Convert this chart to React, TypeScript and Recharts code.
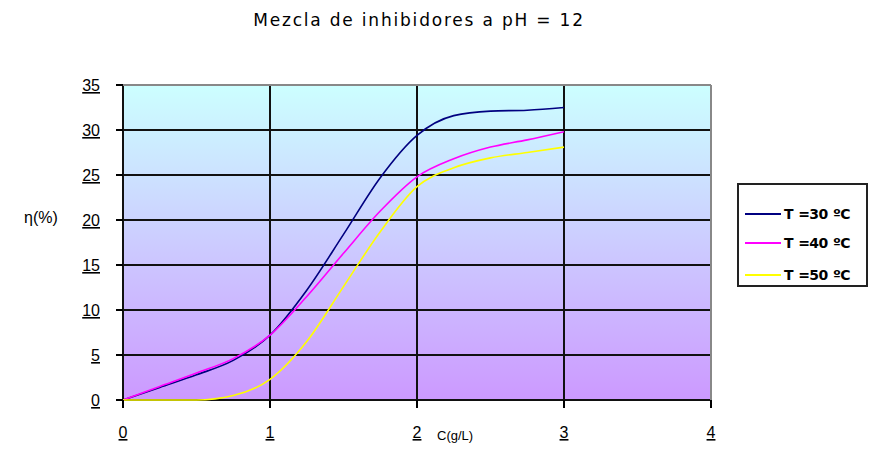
import { LineChart, Line, XAxis, YAxis, CartesianGrid, ReferenceLine, Legend } from "recharts";

const concentrations = [0, 0.25, 0.5, 0.75, 1, 1.25, 1.5, 1.75, 2, 2.25, 2.5, 2.75, 3];
const t30 = [0, 1.4, 2.8, 4.4, 7.2, 12.2, 18.4, 24.7, 29.4, 31.6, 32.1, 32.2, 32.5];
const t40 = [0, 1.5, 3.0, 4.6, 7.2, 11.5, 16.3, 21.0, 24.8, 26.8, 28.1, 28.9, 29.8];
const t50 = [0, 0, 0, 0.5, 2.3, 6.5, 12.6, 18.7, 23.7, 25.8, 26.9, 27.5, 28.1];

const xTicks = [0, 1, 2, 3, 4];
const yTicks = [0, 5, 10, 15, 20, 25, 30, 35];

const series = [
  { key: "t30", name: "T =30 ºC", color: "#000080" },
  { key: "t40", name: "T =40 ºC", color: "#ff00ff" },
  { key: "t50", name: "T =50 ºC", color: "#ffff00" },
];

const data = concentrations.map((c, i) => ({ c, t30: t30[i], t40: t40[i], t50: t50[i] }));

const tickFont = "'Liberation Sans', Arial, sans-serif";

const YTick = (props: any) => {
  const { x, y, payload } = props;
  return (
    <text x={x - 14} y={y + 6} textAnchor="end" fontSize={16} fontFamily={tickFont} fill="#000" textDecoration="underline">
      {payload.value}
    </text>
  );
};

const XTick = (props: any) => {
  const { x, y, payload } = props;
  return (
    <text x={x} y={y + 28} textAnchor="middle" fontSize={16} fontFamily={tickFont} fill="#000" textDecoration="underline">
      {payload.value}
    </text>
  );
};

const LegendBox = () => (
  <div
    style={{
      position: "absolute",
      left: 737,
      top: 183,
      width: 127,
      height: 100,
      border: "2px solid #222",
      background: "#fff",
      fontFamily: "'DejaVu Sans', sans-serif",
      fontWeight: "bold",
      fontSize: 14,
      letterSpacing: -0.6,
      wordSpacing: 1,
    }}
  >
    {series.map((s, i) => (
      <div key={s.key} style={{ position: "absolute", left: 6, top: [21, 50, 82][i], display: "flex", alignItems: "center" }}>
        <div style={{ width: 36, height: 2, background: s.color }} />
        <span style={{ marginLeft: 3, whiteSpace: "nowrap" }}>{s.name}</span>
      </div>
    ))}
  </div>
);

const App = () => {
  return (
    <div style={{ position: "absolute", left: 0, top: 0, width: 870, height: 451, background: "#fff" }}>
      <div
        style={{
          position: "absolute",
          top: 10,
          left: 0,
          width: 838,
          textAlign: "center",
          fontFamily: "'DejaVu Sans', sans-serif",
          fontSize: 17,
          letterSpacing: 1.8,
        }}
      >
        Mezcla de inhibidores a pH = 12
      </div>
      <LineChart width={870} height={451} data={data} margin={{ top: 85, right: 159, bottom: 11, left: 0 }}>
        <defs>
          <linearGradient id="bg" x1="0" y1="0" x2="0" y2="1">
            <stop offset="0%" stopColor="#ccffff" />
            <stop offset="100%" stopColor="#cc99ff" />
          </linearGradient>
        </defs>
        <CartesianGrid fill="url(#bg)" stroke="#111" strokeWidth={2} />
        <XAxis
          dataKey="c"
          type="number"
          domain={[0, 4]}
          ticks={xTicks}
          height={40}
          tick={<XTick />}
          tickSize={8}
          axisLine={false}
          tickLine={{ stroke: "#000", strokeWidth: 2 }}
        />
        <YAxis
          type="number"
          domain={[0, 35]}
          ticks={yTicks}
          width={123}
          tick={<YTick />}
          tickSize={7}
          axisLine={false}
          tickLine={{ stroke: "#000", strokeWidth: 2 }}
        />
        <ReferenceLine y={35} stroke="#888" strokeWidth={2} />
        <ReferenceLine x={4} stroke="#888" strokeWidth={2} />
        {series.map((s) => (
          <Line
            key={s.key}
            type="monotone"
            dataKey={s.key}
            name={s.name}
            stroke={s.color}
            strokeWidth={1.6}
            dot={false}
            isAnimationActive={false}
          />
        ))}
        <Legend content={() => null} />
      </LineChart>
      <div style={{ position: "absolute", left: 24, top: 209, fontFamily: tickFont, fontSize: 16 }}>η(%)</div>
      <div style={{ position: "absolute", left: 437, top: 428, fontFamily: tickFont, fontSize: 13 }}>C(g/L)</div>
      <LegendBox />
    </div>
  );
};

export default App;
